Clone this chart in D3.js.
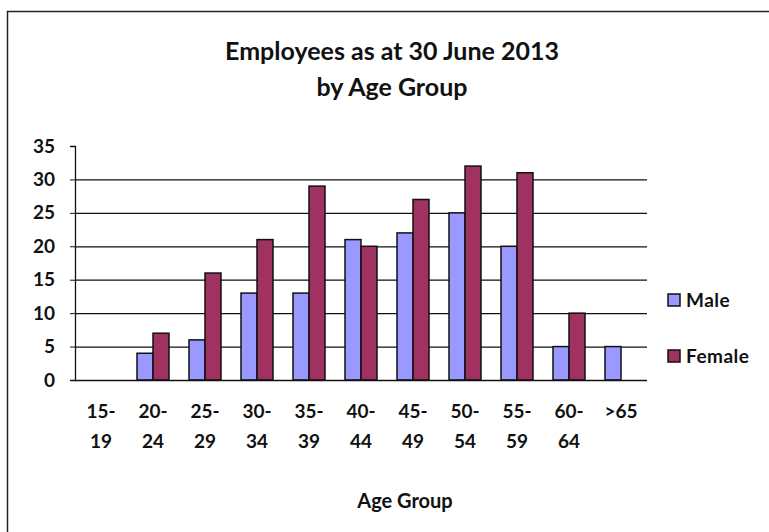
<!DOCTYPE html>
<html>
<head>
<meta charset="utf-8">
<script src="https://cdn.jsdelivr.net/npm/d3@7"></script>
<style>
    body { margin: 0; background: #fff; }
    text { font-family: Lato, "Open Sans", sans-serif; fill: #111; }
</style>
</head>
<body>
<div id="chart"></div>
<script>
// Chart data
const ageGroups = ["15-19", "20-24", "25-29", "30-34", "35-39", "40-44", "45-49", "50-54", "55-59", "60-64", ">65"];
const maleValues = [0, 4, 6, 13, 13, 21, 22, 25, 20, 5, 5];
const femaleValues = [0, 7, 16, 21, 29, 20, 27, 32, 31, 10, 0];
const seriesNames = ["Male", "Female"];
const yTicks = [0, 5, 10, 15, 20, 25, 30, 35];

const colors = { Male: "#9999ff", Female: "#a03262" };

let W = 769, H = 532;
let margin = { top: 146, right: 122, bottom: 152, left: 75 };
let width = W - margin.left - margin.right,
    height = H - margin.top - margin.bottom;

let svg = d3.select("#chart").append("svg")
    .attr("width", W)
    .attr("height", H);

// frame
svg.append("path")
    .attr("d", "M7.5," + H + "V11.5H" + W)
    .attr("fill", "none")
    .attr("stroke", "#222")
    .attr("stroke-width", 1.5);

// Title
svg.append("text")
    .attr("x", 392).attr("y", 60)
    .attr("text-anchor", "middle")
    .style("font-size", "25px").style("font-weight", "bold")
    .text("Employees as at 30 June 2013");
svg.append("text")
    .attr("x", 392).attr("y", 96)
    .attr("text-anchor", "middle")
    .style("font-size", "25px").style("font-weight", "bold")
    .text("by Age Group");

let g = svg.append("g")
    .attr("transform", "translate(" + margin.left + "," + margin.top + ")");

// Scales
let x = d3.scaleBand().domain(ageGroups).range([0, width]);
let x1 = d3.scaleBand().domain(seriesNames).range([10, x.bandwidth() - 10]);
let y = d3.scaleLinear().domain([0, 35]).range([height, 0]);

// gridlines
g.selectAll(".grid")
    .data(yTicks.filter(d => d > 0 && d < 35))
    .enter().append("line")
    .attr("x1", 0).attr("x2", width)
    .attr("y1", d => y(d) + 0.5).attr("y2", d => y(d) + 0.5)
    .attr("stroke", "#111").attr("stroke-width", 1.2);

// y axis
let yAxis = d3.axisLeft(y).tickValues(yTicks).tickSize(5).tickPadding(15);
let yG = g.append("g").call(yAxis);
yG.select(".domain").attr("stroke", "#111").attr("stroke-width", 1.3);
yG.selectAll(".tick line").attr("stroke", "#111");
yG.selectAll(".tick text")
    .style("font-size", "19px").style("font-weight", "bold")
    .attr("font-family", null);

// Bars
let groups = g.selectAll(".grp")
    .data(ageGroups)
    .enter().append("g")
    .attr("transform", d => "translate(" + x(d) + ",0)");

groups.selectAll("rect")
    .data((d, i) => [
        { key: "Male", value: maleValues[i] },
        { key: "Female", value: femaleValues[i] }
    ].filter(e => e.value > 0))
    .enter().append("rect")
    .attr("x", d => x1(d.key))
    .attr("width", x1.bandwidth())
    .attr("y", d => y(d.value))
    .attr("height", d => height - y(d.value))
    .attr("fill", d => colors[d.key])
    .attr("stroke", "#111")
    .attr("stroke-width", 1.5);

// x axis line
g.append("line")
    .attr("x1", 0).attr("x2", width)
    .attr("y1", height + 0.5).attr("y2", height + 0.5)
    .attr("stroke", "#111").attr("stroke-width", 1.5);

// x labels (two lines)
let xLab = g.selectAll(".xlab")
    .data(ageGroups)
    .enter().append("text")
    .attr("text-anchor", "middle")
    .style("font-size", "19px").style("font-weight", "bold")
    .attr("transform", d => "translate(" + (x(d) + x.bandwidth() / 2) + "," + (height + 38) + ")");
xLab.each(function (d) {
    let parts = d.indexOf("-") > 0 ? [d.split("-")[0] + "-", d.split("-")[1]] : [d];
    let t = d3.select(this);
    parts.forEach((p, i) => {
        t.append("tspan").attr("x", 0).attr("y", i * 30).text(p);
    });
});

// axis title
svg.append("text")
    .attr("x", 405).attr("y", 508)
    .attr("text-anchor", "middle")
    .style("font-size", "20px").style("font-weight", "bold")
    .text("Age Group");

// Legend
let legend = svg.selectAll(".legend")
    .data(seriesNames)
    .enter().append("g")
    .attr("transform", (d, i) => "translate(668," + (300 + i * 56) + ")");
legend.append("rect")
    .attr("x", 0).attr("y", -6)
    .attr("width", 12).attr("height", 12)
    .attr("fill", d => colors[d])
    .attr("stroke", "#111").attr("stroke-width", 1.5);
legend.append("text")
    .attr("x", 18).attr("y", 7)
    .style("font-size", "19px").style("font-weight", "bold")
    .style("letter-spacing", "0.5px")
    .text(d => d);
</script>
</body>
</html>
